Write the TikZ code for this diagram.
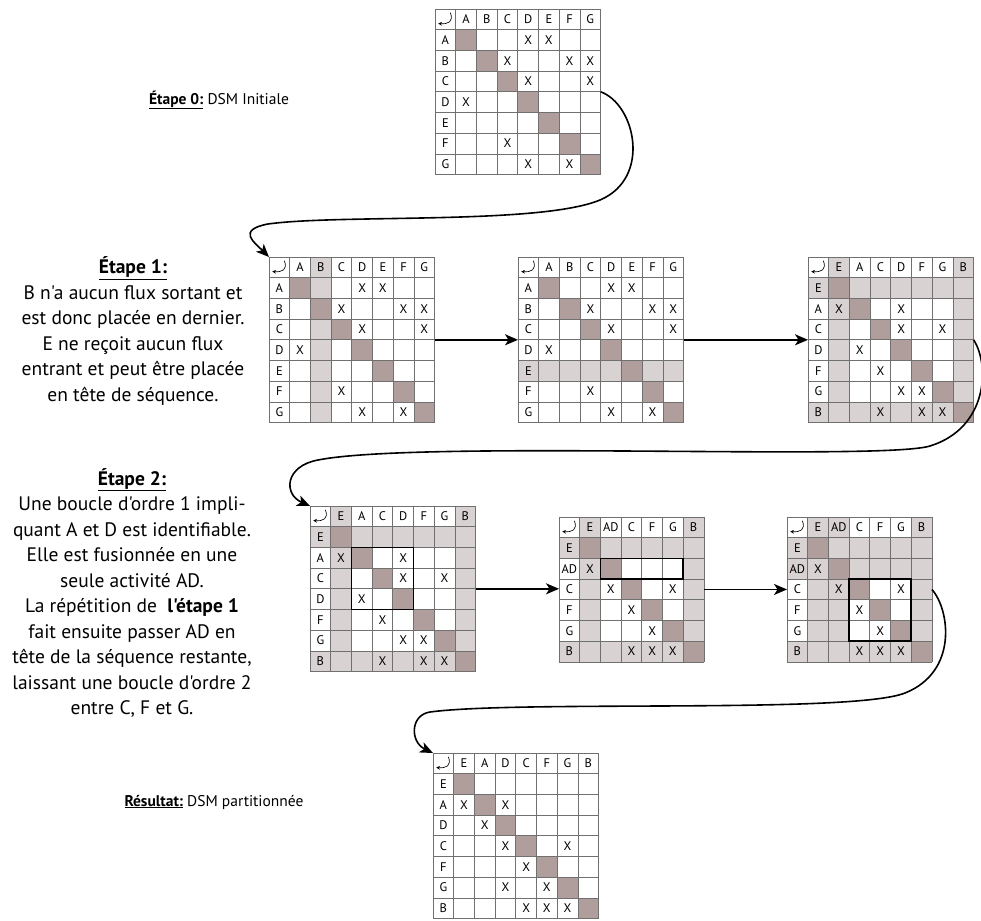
\documentclass[tikz,border=0pt]{standalone}
\usepackage{fontspec}
\setmainfont{PT Sans}[Ligatures=TeXOff]
\usetikzlibrary{arrows.meta}
\definecolor{diag}{RGB}{176,158,156}
\definecolor{lite}{RGB}{216,210,210}
\definecolor{gridc}{RGB}{112,112,112}
\tikzset{
  lab/.style={font=\fontsize{12.5}{14}\selectfont, inner sep=0pt},
  xm/.style={font=\fontsize{12.5}{14}\selectfont, inner sep=0pt},
  gridl/.style={draw=gridc, line width=0.7pt},
  loopbox/.style={draw=black, line width=1.8pt},
  conn/.style={draw=black, line width=1.6pt, -{Stealth[length=13pt,width=11pt,inset=3.5pt]}},
  mframe/.style={inner sep=0pt, outer sep=0pt, minimum width=#1, minimum height=#1},
  txt/.style={font=\fontsize{19.5}{25.5}\selectfont, align=center, inner sep=0pt},
  stxt/.style={font=\fontsize{15.5}{20}\selectfont, inner sep=0pt},
}
\newcommand\dsmfinish[3]{% #1 prefix, #2 number of activities, #3 labels
  \foreach \k in {1,...,#2} \fill[diag] (\k,\k) rectangle ++(1,1);
  \pgfmathtruncatemacro\dsmN{#2+1}
  \foreach \k in {0,...,\dsmN} {\draw[gridl] (\k,0) -- (\k,\dsmN); \draw[gridl] (0,\k) -- (\dsmN,\k);}
  \foreach \l [count=\k] in {#3} {\node[lab] (#1h\k) at (\k+.5,.5) {\l}; \node[lab] (#1v\k) at (.5,\k+.5) {\l};}
  \draw[line width=0.65pt, -{Stealth[length=3.6pt,width=3.8pt]}] (0.74,0.18) .. controls (0.92,0.62) and (0.62,0.74) .. (0.16,0.7);
}
\newcommand\dsmX[2]{\foreach \c/\r in {#2} \node[xm] (#1x\c-\r) at (\c+.5,\r+.5) {X};}
\newcommand\dsmlite[1]{\foreach \a/\b/\c/\d in {#1} \fill[lite] (\a,\b) rectangle (\c,\d);}
\begin{document}
\begin{tikzpicture}[x=1pt, y=-1pt]
\useasboundingbox (0,0) rectangle (981,920);
% ---------- M1
\begin{scope}[shift={(435,9)}, x=20.7pt, y=-20.7pt]
  \fill[white] (0,0) rectangle (8,8);
  \node[mframe=165.6pt] (M1) at (4,4) {};
  \dsmfinish{a}{7}{A,B,C,D,E,F,G}
  \dsmX{a}{4/1,5/1,3/2,6/2,7/2,4/3,7/3,1/4,3/6,4/7,6/7}
\end{scope}
% ---------- M2
\begin{scope}[shift={(269,257)}, x=20.7pt, y=-20.7pt]
  \fill[white] (0,0) rectangle (8,8);
  \node[mframe=165.6pt] (M2) at (4,4) {};
  \dsmlite{2/0/3/8}
  \dsmfinish{b}{7}{A,B,C,D,E,F,G}
  \dsmX{b}{4/1,5/1,3/2,6/2,7/2,4/3,7/3,1/4,3/6,4/7,6/7}
\end{scope}
% ---------- M3
\begin{scope}[shift={(518,257)}, x=20.7pt, y=-20.7pt]
  \fill[white] (0,0) rectangle (8,8);
  \node[mframe=165.6pt] (M3) at (4,4) {};
  \dsmlite{0/5/8/6}
  \dsmfinish{c}{7}{A,B,C,D,E,F,G}
  \dsmX{c}{4/1,5/1,3/2,6/2,7/2,4/3,7/3,1/4,3/6,4/7,6/7}
\end{scope}
% ---------- M4
\begin{scope}[shift={(808,257)}, x=20.7pt, y=-20.7pt]
  \fill[white] (0,0) rectangle (8,8);
  \node[mframe=165.6pt] (M4) at (4,4) {};
  \dsmlite{0/1/8/2,0/7/8/8,1/0/2/8,7/0/8/8}
  \dsmfinish{d}{7}{E,A,C,D,F,G,B}
  \dsmX{d}{1/2,4/2,4/3,6/3,2/4,3/5,4/6,5/6,3/7,5/7,6/7}
\end{scope}
% ---------- M5
\begin{scope}[shift={(310,506)}, x=20.7pt, y=-20.7pt]
  \fill[white] (0,0) rectangle (8,8);
  \node[mframe=165.6pt] (M5) at (4,4) {};
  \dsmlite{0/1/8/2,0/7/8/8,1/0/2/8,7/0/8/8}
  \dsmfinish{e}{7}{E,A,C,D,F,G,B}
  \dsmX{e}{1/2,4/2,4/3,6/3,2/4,3/5,4/6,5/6,3/7,5/7,6/7}
  \draw[loopbox] (2,2) rectangle (5,5);
\end{scope}
% ---------- M6
\begin{scope}[shift={(559,517)}, x=20.7pt, y=-20.7pt]
  \fill[white] (0,0) rectangle (7,7);
  \node[mframe=144.9pt] (M6) at (3.5,3.5) {};
  \dsmlite{0/1/7/2,0/6/7/7,1/0/2/7,6/0/7/7}
  \dsmfinish{f}{6}{E,AD,C,F,G,B}
  \dsmX{f}{1/2,2/3,5/3,3/4,4/5,3/6,4/6,5/6}
  \draw[loopbox] (2,2) rectangle (6,3);
\end{scope}
% ---------- M7
\begin{scope}[shift={(787,517)}, x=20.7pt, y=-20.7pt]
  \fill[white] (0,0) rectangle (7,7);
  \node[mframe=144.9pt] (M7) at (3.5,3.5) {};
  \dsmlite{0/1/7/2,0/2/7/3,0/6/7/7,1/0/2/7,2/0/3/7,6/0/7/7}
  \dsmfinish{g}{6}{E,AD,C,F,G,B}
  \dsmX{g}{1/2,2/3,5/3,3/4,4/5,3/6,4/6,5/6}
  \draw[loopbox] (3,3) rectangle (6,6);
\end{scope}
% ---------- M8
\begin{scope}[shift={(433,753)}, x=20.7pt, y=-20.7pt]
  \fill[white] (0,0) rectangle (8,8);
  \node[mframe=165.6pt] (M8) at (4,4) {};
  \dsmfinish{h}{7}{E,A,D,C,F,G,B}
  \dsmX{h}{1/2,3/2,2/3,3/4,6/4,4/5,3/6,5/6,4/7,5/7,6/7}
\end{scope}
% ---------- connectors
\draw[conn] (M2.east) -- (M3.west);
\draw[conn] (M3.east) -- (M4.west);
\draw[conn] (M5.east) -- (M5.east -| M6.west);
\draw[conn] (M6.east) -- (M7.west);
\draw[conn] (M1.east) .. controls (635,104) and (652,178) .. (600,200)
  .. controls (540,225) and (340,214) .. (268,224)
  .. controls (236,230) and (255,243) .. (M2.north west);
\draw[conn] (M4.east) .. controls (990,365) and (988,428) .. (930,446)
  .. controls (880,461) and (420,440) .. (318,460)
  .. controls (285,466) and (283,494) .. (M5.north west);
\draw[conn] (M7.east) .. controls (950,610) and (958,672) .. (905,693)
  .. controls (852,714) and (520,700) .. (430,712)
  .. controls (410,715) and (410,742) .. (M8.north west);
% ---------- texts
\node[stxt] (s0) at (219,100) {\textbf{\underline{Étape 0:}} DSM Initiale};
\node[txt] (s1) at (133,331) {\textbf{\underline{Étape 1:}}\\ B n'a aucun flux sortant et\\ est donc placée en dernier.\\ E ne reçoit aucun flux\\ entrant et peut être placée\\ en tête de séquence.};
\node[txt] (s2) at (132,593) {\textbf{\underline{Étape 2:}}\\ Une boucle d'ordre 1 impli-\\ quant A et D est identifiable.\\ Elle est fusionnée en une\\ seule activité AD.\\ La répétition de \ \textbf{l'étape 1}\\ fait ensuite passer AD en\\ tête de la séquence restante,\\ laissant une boucle d'ordre 2\\ entre C, F et G.};
\node[stxt] (s3) at (214,802) {\textbf{\underline{Résultat:}} DSM partitionnée};
\end{tikzpicture}
\end{document}
